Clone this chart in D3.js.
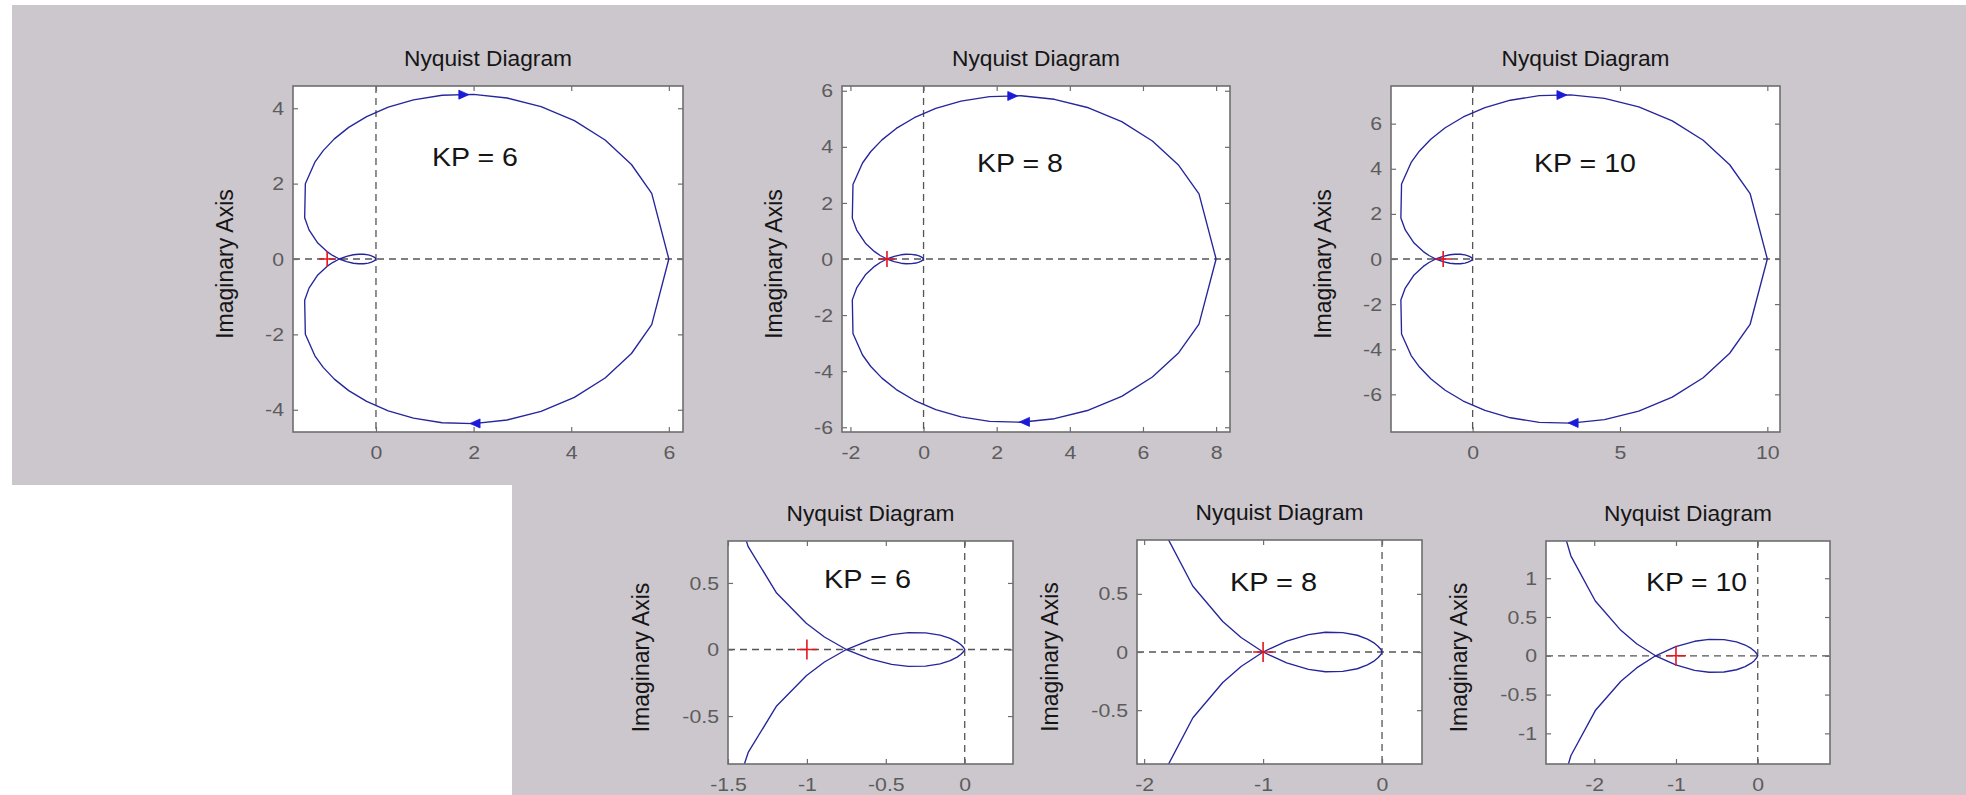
<!DOCTYPE html>
<html><head><meta charset="utf-8">
<script src="https://cdn.jsdelivr.net/npm/d3@7"></script>
<style>
body{margin:0;background:#fff;}
text{font-family:"Liberation Sans",Arial,Helvetica,sans-serif;}
</style>
</head><body>
<svg id="c" width="1966" height="795"></svg>
<script>
// ---------------- DATA ----------------
const kpValues = [6, 8, 10];
// positive-frequency branch of each Nyquist curve (real / imaginary parts)
const reKP6  = [6.000, 5.649, 5.234, 4.694, 4.064, 3.382, 2.684, 1.997, 1.355, 0.768, 0.251, -0.191, -0.559, -0.853, -1.081, -1.252, -1.447, -1.461, -1.372, -1.192, -1.004, -0.889, -0.750, -0.602, -0.463, -0.357, -0.248, -0.156, -0.092, -0.048, -0.025, -0.007, 0];
const imKP6  = [0, -1.741, -2.507, -3.158, -3.673, -4.045, -4.272, -4.367, -4.344, -4.224, -4.028, -3.778, -3.492, -3.187, -2.875, -2.568, -1.994, -1.093, -0.773, -0.424, -0.197, -0.094, 0, 0.071, 0.112, 0.127, 0.125, 0.108, 0.084, 0.057, 0.038, 0.015, 0];
const reKP8  = [8.000, 7.532, 6.978, 6.258, 5.419, 4.510, 3.579, 2.662, 1.806, 1.024, 0.334, -0.254, -0.745, -1.137, -1.442, -1.669, -1.930, -1.948, -1.829, -1.590, -1.339, -1.185, -1.000, -0.802, -0.618, -0.476, -0.330, -0.208, -0.123, -0.064, -0.034, -0.009, 0];
const imKP8  = [0, -2.322, -3.342, -4.210, -4.898, -5.394, -5.696, -5.823, -5.792, -5.632, -5.371, -5.038, -4.656, -4.249, -3.834, -3.424, -2.658, -1.458, -1.031, -0.565, -0.262, -0.125, 0, 0.094, 0.150, 0.170, 0.167, 0.144, 0.111, 0.076, 0.050, 0.021, 0];
const reKP10 = [10.000, 9.415, 8.723, 7.823, 6.774, 5.637, 4.474, 3.328, 2.258, 1.280, 0.418, -0.318, -0.931, -1.421, -1.802, -2.086, -2.412, -2.435, -2.286, -1.987, -1.674, -1.481, -1.250, -1.003, -0.772, -0.595, -0.413, -0.260, -0.154, -0.080, -0.042, -0.012, 0];
const imKP10 = [0, -2.902, -4.178, -5.263, -6.122, -6.742, -7.120, -7.279, -7.240, -7.040, -6.714, -6.297, -5.820, -5.311, -4.792, -4.280, -3.323, -1.822, -1.289, -0.706, -0.328, -0.156, 0, 0.118, 0.187, 0.212, 0.209, 0.180, 0.139, 0.095, 0.063, 0.026, 0];
// direction arrows (upper arrow points right, lower arrow points left)
const arrowUpperX = [1.80, 2.44, 3.03];
const arrowUpperY = [4.36, 5.815, 7.268];
const arrowLowerX = [2.03, 2.76, 3.41];
const arrowLowerY = [-4.363, -5.81, -7.268];
const criticalPoint = [-1, 0];
// axes limits and ticks
const topXDomains = [[-1.70, 6.29], [-2.23, 8.38], [-2.77, 10.43]];
const topYDomains = [[-4.59, 4.59], [-6.17, 6.17], [-7.67, 7.67]];
const topXTicks = [[0, 2, 4, 6], [-2, 0, 2, 4, 6, 8], [0, 5, 10]];
const topYTicks = [[-4, -2, 0, 2, 4], [-6, -4, -2, 0, 2, 4, 6], [-6, -4, -2, 0, 2, 4, 6]];
const botXDomains = [[-1.5, 0.306], [-2.06, 0.336], [-2.59, 0.884]];
const botYDomains = [[-0.86, 0.815], [-0.963, 0.963], [-1.395, 1.48]];
const botXTicks = [[-1.5, -1, -0.5, 0], [-2, -1, 0], [-2, -1, 0]];
const botYTicks = [[-0.5, 0, 0.5], [-0.5, 0, 0.5], [-1, -0.5, 0, 0.5, 1]];
const titleText = "Nyquist Diagram";
const yLabelText = "Imaginary Axis";

// ---------------- LAYOUT ----------------
const topBoxes = [{l:293, r:683, t:86, b:432}, {l:842, r:1230, t:86, b:432}, {l:1391, r:1780, t:86, b:432}];
const botBoxes = [{l:728, r:1013, t:541, b:764}, {l:1137, r:1422, t:540, b:764}, {l:1546, r:1830, t:541, b:764}];
const topKP = [{x:432, y:157, w:86}, {x:977, y:163, w:86}, {x:1534, y:163, w:102}];
const botKP = [{x:824, y:579, w:87}, {x:1230, y:582, w:87}, {x:1646, y:582, w:101}];

const BG = "#ccc7cd";
const svg = d3.select("#c");
svg.append("rect").attr("x", 0).attr("y", 0).attr("width", 1966).attr("height", 795).attr("fill", "#fff");
svg.append("rect").attr("x", 12).attr("y", 5).attr("width", 1954).attr("height", 480).attr("fill", BG);
svg.append("rect").attr("x", 512).attr("y", 484).attr("width", 1454).attr("height", 311).attr("fill", BG);
const defs = svg.append("defs");

const curves = {
  6: {re: reKP6, im: imKP6},
  8: {re: reKP8, im: imKP8},
  10: {re: reKP10, im: imKP10}
};

function fmt(v){ return String(v); }

function drawPanel(id, box, xd, yd, xt, yt, kIdx, kp, opts) {
  const x = d3.scaleLinear().domain(xd).range([box.l, box.r]);
  const y = d3.scaleLinear().domain(yd).range([box.b, box.t]);
  const g = svg.append("g");
  g.append("rect").attr("x", box.l).attr("y", box.t).attr("width", box.r - box.l).attr("height", box.b - box.t).attr("fill", "#fff");

  defs.append("clipPath").attr("id", "clip" + id).append("rect")
    .attr("x", box.l).attr("y", box.t).attr("width", box.r - box.l).attr("height", box.b - box.t);
  const inner = g.append("g").attr("clip-path", `url(#clip${id})`);

  // dashed zero lines
  inner.append("line").attr("x1", box.l).attr("x2", box.r).attr("y1", y(0)).attr("y2", y(0))
    .attr("stroke", "#555").attr("stroke-width", 1.3).attr("stroke-dasharray", "7,5");
  inner.append("line").attr("x1", x(0)).attr("x2", x(0)).attr("y1", box.t).attr("y2", box.b)
    .attr("stroke", "#555").attr("stroke-width", 1.3).attr("stroke-dasharray", "7,5");

  // curves: positive frequencies and their mirror (negative frequencies)
  const c = curves[kp];
  const pos = c.re.map((r, k) => [r, c.im[k]]);
  const neg = c.re.map((r, k) => [r, -c.im[k]]);
  const line = d3.line().x(d => x(d[0])).y(d => y(d[1]));
  [pos, neg].forEach(pts => inner.append("path").attr("d", line(pts))
    .attr("fill", "none").attr("stroke", "#25259c").attr("stroke-width", 1.35).attr("stroke-linejoin", "round"));

  // critical point marker
  const ps = opts.plus;
  const cx = x(criticalPoint[0]), cy = y(criticalPoint[1]);
  inner.append("path").attr("d", `M${cx - ps},${cy}H${cx + ps}M${cx},${cy - ps}V${cy + ps}`)
    .attr("stroke", "#e8141e").attr("stroke-width", 1.6);

  // arrows
  const arrows = [
    {x: arrowUpperX[kIdx], y: arrowUpperY[kIdx], dir: 1},
    {x: arrowLowerX[kIdx], y: arrowLowerY[kIdx], dir: -1}
  ];
  arrows.forEach(a => {
    const ax = x(a.x), ay = y(a.y), L = 5, W = 4.5;
    inner.append("path")
      .attr("d", `M${ax + a.dir * L},${ay}L${ax - a.dir * L},${ay - W}L${ax - a.dir * L},${ay + W}Z`)
      .attr("fill", "#1a1ad8").attr("stroke", "#1a1ad8").attr("stroke-width", 0.8);
  });

  // axes (ticks inside, box on)
  const tickLen = 5;
  const axB = g.append("g").attr("transform", `translate(0,${box.b})`)
    .call(d3.axisBottom(x).tickValues(xt).tickFormat(fmt).tickSizeInner(-tickLen).tickSizeOuter(0).tickPadding(tickLen + 8));
  const axL = g.append("g").attr("transform", `translate(${box.l},0)`)
    .call(d3.axisLeft(y).tickValues(yt).tickFormat(fmt).tickSizeInner(-tickLen).tickSizeOuter(0).tickPadding(tickLen + 9));
  const axT = g.append("g").attr("transform", `translate(0,${box.t})`)
    .call(d3.axisTop(x).tickValues(xt).tickFormat("").tickSizeInner(-tickLen).tickSizeOuter(0));
  const axR = g.append("g").attr("transform", `translate(${box.r},0)`)
    .call(d3.axisRight(y).tickValues(yt).tickFormat("").tickSizeInner(-tickLen).tickSizeOuter(0));
  [axB, axL, axT, axR].forEach(a => {
    a.select(".domain").remove();
    a.selectAll(".tick line").attr("stroke", "#6e6e6e").attr("stroke-width", 1.2);
    a.selectAll(".tick text").attr("fill", "#5c5c5c").attr("font-size", 19)
      .style("font-family", '"Liberation Sans", Arial, sans-serif');
  });
  axB.selectAll(".tick text").attr("transform", "scale(1.12,1)").attr("dy", "0.32em").attr("y", opts.xLabelDy);
  axL.selectAll(".tick text").attr("transform", "scale(1.12,1)").attr("x", -9 / 1.12);

  g.append("rect").attr("x", box.l).attr("y", box.t).attr("width", box.r - box.l).attr("height", box.b - box.t)
    .attr("fill", "none").attr("stroke", "#6e6e6e").attr("stroke-width", 1.6);

  // title
  g.append("text").attr("x", (box.l + box.r) / 2).attr("y", box.t - 28)
    .attr("text-anchor", "middle").attr("dominant-baseline", "central")
    .attr("font-size", 22).attr("fill", "#151515")
    .attr("textLength", 168).attr("lengthAdjust", "spacingAndGlyphs").text(titleText);

  // y label
  const lx = box.l - opts.yLabelOff, ly = (box.t + box.b) / 2 + 5;
  g.append("text").attr("transform", `translate(${lx},${ly}) rotate(-90)`)
    .attr("text-anchor", "middle").attr("dominant-baseline", "central")
    .attr("font-size", 23).attr("fill", "#151515").text(yLabelText);

  // KP annotation
  const kpPos = opts.kpPos;
  g.append("text").attr("x", kpPos.x).attr("y", kpPos.y)
    .attr("dominant-baseline", "central").attr("font-size", 26).attr("fill", "#151515")
    .attr("textLength", kpPos.w).attr("lengthAdjust", "spacingAndGlyphs")
    .text(`KP = ${kp}`);
}

kpValues.forEach((kp, i) => {
  drawPanel("t" + i, topBoxes[i], topXDomains[i], topYDomains[i], topXTicks[i], topYTicks[i], i, kp,
    {plus: 8, yLabelOff: 68, kpPos: topKP[i], xLabelDy: 21});
});
kpValues.forEach((kp, i) => {
  drawPanel("b" + i, botBoxes[i], botXDomains[i], botYDomains[i], botXTicks[i], botYTicks[i], i, kp,
    {plus: 10, yLabelOff: 87, kpPos: botKP[i], xLabelDy: 21});
});
</script>
</body></html>
